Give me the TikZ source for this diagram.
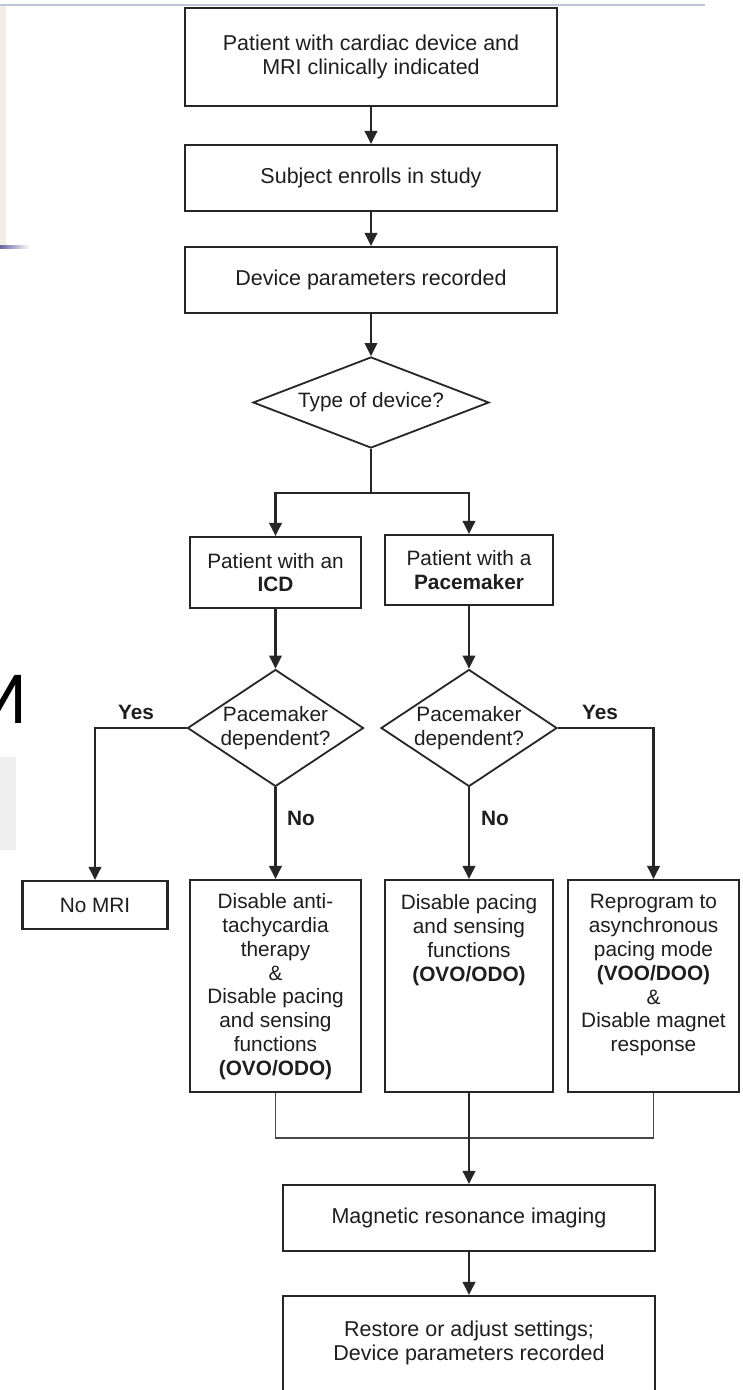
\documentclass[tikz,border=0pt]{standalone}
\usepackage{fontspec}
\setmainfont{Liberation Sans}
\newfontfamily\slidefont{Carlito}
\usetikzlibrary{shapes.geometric,arrows.meta}
\definecolor{lc}{HTML}{262626}
\definecolor{tc}{HTML}{1E1E1E}
\definecolor{slideline}{HTML}{B9C6D8}
\definecolor{cream}{HTML}{F2EEE3}
\definecolor{slidegray}{HTML}{EFEFEF}
\newcommand\fA{\fontsize{21.5}{24}\selectfont}
\newcommand\fB{\fontsize{20.8}{23.8}\selectfont}
\begin{document}
\begin{tikzpicture}[x=1pt,y=-1pt,
  line/.style={draw=lc, line width=2.1pt},
  arr/.style={line, -{Triangle[length=13pt,width=12.5pt]}},
  box/.style={draw=lc, line width=2.1pt, rectangle, inner sep=0pt, align=center, text=tc},
  dia/.style={draw=lc, line width=1.8pt, diamond, inner sep=0pt, align=center, text=tc, font=\fB},
  atext/.style={anchor=north, inner sep=0pt, align=center, text=tc, font=\fB},
  lbl/.style={font=\fB\bfseries, text=tc, inner sep=0pt}]
\useasboundingbox (0,0) rectangle (742,1390);
\clip (0,0) rectangle (742,1390);
% slide remnants
\fill[white] (0,0) rectangle (742,1390);
\fill[cream] (0,5) rectangle (6,247);
\draw[slideline, line width=1.5pt] (0,5) -- (705,5);
\shade[left color=black!60!blue!60, right color=white] (0,245.5) rectangle (30,248.5);
\fill[slidegray] (0,757) rectangle (16,850);
\node[font=\slidefont\fontsize{75}{75}\selectfont, anchor=base east, inner sep=0pt] (mm) at (28,723) {M};
% flowchart boxes
\node[box, minimum width=372pt, minimum height=98pt, font=\fA] (b1) at (371,57) {Patient with cardiac device and\\MRI clinically indicated};
\node[box, minimum width=372pt, minimum height=66pt, font=\fA] (b2) at (371,178) {Subject enrolls in study};
\node[box, minimum width=372pt, minimum height=66pt, font=\fA] (b3) at (371,280) {Device parameters recorded};
\node[dia, aspect=2.6, minimum width=236pt, minimum height=91pt] (t) at (371,402.5) {Type of device?};
\coordinate (split) at (371,493);
\node[box, minimum width=171pt, minimum height=71pt, font=\fB] (icd) at (275.5,572.5) {Patient with an\\\textbf{ICD}};
\node[box, minimum width=168pt, minimum height=70pt, font=\fB] (pm) at (469,570) {Patient with a\\\textbf{Pacemaker}};
\node[dia, aspect=1.5, minimum width=176pt, minimum height=117pt] (d1) at (275.5,728) {Pacemaker\\dependent?};
\node[dia, aspect=1.5, minimum width=176pt, minimum height=117pt] (d2) at (469,728) {Pacemaker\\dependent?};
\node[box, minimum width=145pt, minimum height=48pt, font=\fB] (nomri) at (95,905) {No MRI};
\node[box, minimum width=171pt, minimum height=212pt] (a1) at (275.5,986) {};
\node[box, minimum width=168pt, minimum height=212pt] (a2) at (469,986) {};
\node[box, minimum width=171pt, minimum height=212pt] (a3) at (653.5,986) {};
\node[atext] (a1t) at ([yshift=-14.5pt]a1.north) {Disable anti-\\tachycardia\\therapy\\\&\\Disable pacing\\and sensing\\functions\\\textbf{(OVO/ODO)}};
\node[atext] (a2t) at ([yshift=-15.5pt]a2.north) {Disable pacing\\and sensing\\functions\\\textbf{(OVO/ODO)}};
\node[atext] (a3t) at ([yshift=-15.5pt]a3.north) {Reprogram to\\asynchronous\\pacing mode\\\textbf{(VOO/DOO)}\\\&\\Disable magnet\\response};
\coordinate (merge) at (469,1138);
\node[box, minimum width=372pt, minimum height=66pt, font=\fA] (mri) at (469,1218) {Magnetic resonance imaging};
\node[box, minimum width=372pt, minimum height=130pt] (rest) at (469,1361) {};
\node[inner sep=0pt, align=center, text=tc, font=\fA] (restt) at (469,1343) {Restore or adjust settings;\\Device parameters recorded};
% labels
\node[lbl] (yes1) at (136,712) {Yes};
\node[lbl] (yes2) at (600,712) {Yes};
\node[lbl, anchor=west] (no1) at (287,818) {No};
\node[lbl, anchor=west] (no2) at (481,818) {No};
% connectors
\draw[arr] (b1.south) -- (b2.north);
\draw[arr] (b2.south) -- (b3.north);
\draw[arr] (b3.south) -- (t.north);
\draw[line] (t.south) -- (split);
\draw[arr] (split) -| (icd.north);
\draw[arr] (split) -| (pm.north);
\draw[arr] (icd.south) -- (d1.north);
\draw[arr] (pm.south) -- (d2.north);
\draw[arr] (d1.west) -| (nomri.north);
\draw[arr] (d2.east) -| (a3.north);
\draw[arr] (d1.south) -- (a1.north);
\draw[arr] (d2.south) -- (a2.north);
\draw[line, line width=1.7pt, draw=lc!85] (a1.south) |- (merge);
\draw[line, line width=1.7pt, draw=lc!85] (a3.south) |- (merge);
\draw[arr] (a2.south) -- (mri.north);
\draw[arr] (mri.south) -- (rest.north);
\end{tikzpicture}
\end{document}
